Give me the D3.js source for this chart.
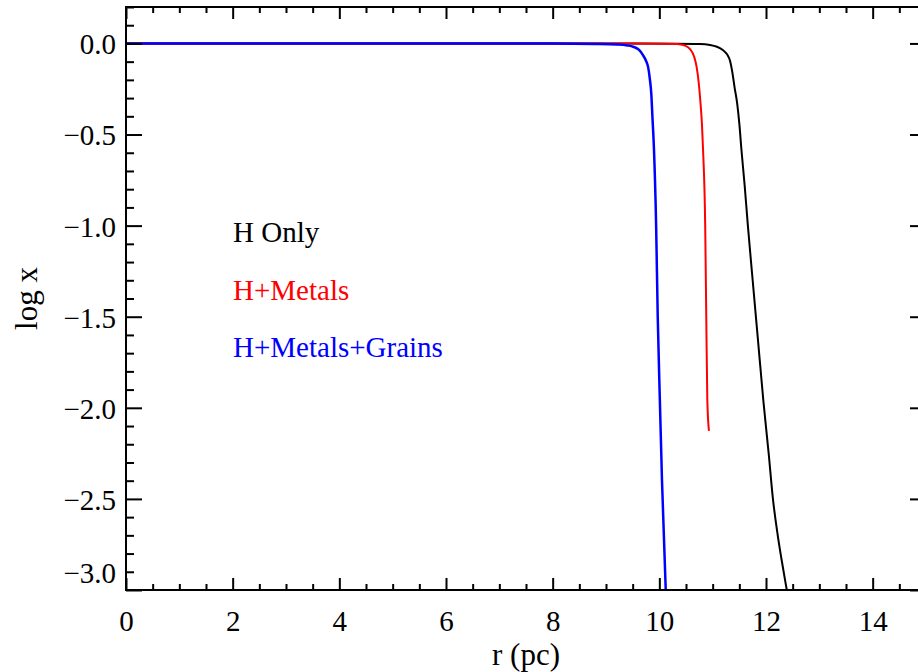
<!DOCTYPE html>
<html>
<head>
<meta charset="utf-8">
<script src="https://cdn.jsdelivr.net/npm/d3@7"></script>
<style>
  html, body { margin: 0; padding: 0; background: #fff; }
  svg { display: block; overflow: hidden; }
  text { font-family: "Liberation Serif", "Times New Roman", serif; }
</style>
</head>
<body>
<svg id="chart" width="918" height="672"></svg>
<script>
// ── Data ──────────────────────────────────────────────────────────────────
const hOnlyR    = [0, 4, 8, 9.5, 10.3, 10.76, 10.95, 11.08, 11.19, 11.27, 11.33, 11.37, 11.41, 11.46, 11.50, 11.54, 11.60, 11.66, 11.75, 11.85, 11.95, 12.05, 12.13, 12.22, 12.29, 12.39, 12.45];
const hOnlyLogX = [0, 0, -0.0005, -0.001, -0.0015, -0.003, -0.008, -0.018, -0.036, -0.06, -0.10, -0.16, -0.24, -0.33, -0.44, -0.585, -0.78, -1.0, -1.3, -1.63, -1.96, -2.25, -2.5, -2.7, -2.83, -3.0, -3.1];

const metalsR    = [0, 4, 8, 9.5, 10.1, 10.33, 10.48, 10.58, 10.65, 10.70, 10.74, 10.77, 10.80, 10.82, 10.86, 10.88, 10.90, 10.93];
const metalsLogX = [0, 0, -0.0005, -0.001, -0.0015, -0.003, -0.012, -0.033, -0.07, -0.13, -0.22, -0.32, -0.45, -0.585, -1.0, -1.5, -1.96, -2.127];

const grainsR    = [0, 4, 8, 8.8, 9.2, 9.4, 9.51, 9.62, 9.69, 9.75, 9.79, 9.82, 9.85, 9.87, 9.90, 9.94, 9.97, 10.01, 10.05, 10.12, 10.15];
const grainsLogX = [0, 0, -0.001, -0.003, -0.006, -0.011, -0.018, -0.036, -0.063, -0.095, -0.13, -0.19, -0.28, -0.40, -0.585, -1.0, -1.5, -1.96, -2.4, -3.0, -3.2];

const seriesNames  = ['H Only', 'H+Metals', 'H+Metals+Grains'];
const seriesColors = ['#000000', '#ff0000', '#0000ff'];

const xMajor = [0, 2, 4, 6, 8, 10, 12, 14];
const yMajor = [0.0, -0.5, -1.0, -1.5, -2.0, -2.5, -3.0];

// ── Layout ────────────────────────────────────────────────────────────────
const L = 126, R = 926, T = 7, B = 590;
const svg = d3.select('#chart');
const x = d3.scaleLinear().domain([0, 15]).range([L, R]);
const y = d3.scaleLinear().domain([-3.0, 0.2]).range([B, T]);

const xMinor = d3.range(0, 15.01, 0.5).filter(v => !xMajor.includes(v));
const yMinor = d3.range(-30, 3, 1).map(v => v / 10).filter(v => !yMajor.some(m => Math.abs(m - v) < 1e-9));

svg.append('clipPath').attr('id', 'plotclip')
  .append('rect').attr('x', L).attr('y', T).attr('width', R - L).attr('height', B - T);

// ── Curves ────────────────────────────────────────────────────────────────
const line = d3.line().x(d => x(d[0])).y(d => y(d[1])).curve(d3.curveMonotoneX);
const series = [
  [hOnlyR, hOnlyLogX, 2],
  [metalsR, metalsLogX, 2],
  [grainsR, grainsLogX, 2.5]
];
const gLines = svg.append('g').attr('clip-path', 'url(#plotclip)');
series.forEach(([rs, vs, w], i) => {
  gLines.append('path')
    .datum(rs.map((r, k) => [r, vs[k]]))
    .attr('d', line)
    .attr('fill', 'none')
    .attr('stroke', seriesColors[i])
    .attr('stroke-width', w)
    .attr('stroke-linejoin', 'round');
});

// ── Axes (ticks inward, IDL style) ────────────────────────────────────────
function styleAxis(g) {
  g.attr('font-family', null).attr('font-size', null);
  g.select('.domain').remove();
  g.selectAll('line').attr('stroke', '#000').attr('stroke-width', 2);
  g.selectAll('text').attr('font-size', 29).attr('fill', '#000');
}

// bottom
svg.append('g').attr('transform', `translate(0,${B})`)
  .call(d3.axisBottom(x).tickValues(xMinor).tickSize(-6).tickFormat(''))
  .call(styleAxis);
const gxb = svg.append('g').attr('transform', `translate(0,${B})`)
  .call(d3.axisBottom(x).tickValues(xMajor).tickSize(-12).tickFormat(d3.format('d')))
  .call(styleAxis);
gxb.selectAll('text').attr('y', 41).attr('dy', null);

// top
svg.append('g').attr('transform', `translate(0,${T})`)
  .call(d3.axisTop(x).tickValues(xMinor).tickSize(-6).tickFormat(''))
  .call(styleAxis);
svg.append('g').attr('transform', `translate(0,${T})`)
  .call(d3.axisTop(x).tickValues(xMajor).tickSize(-12).tickFormat(''))
  .call(styleAxis);

// left
svg.append('g').attr('transform', `translate(${L},0)`)
  .call(d3.axisLeft(y).tickValues(yMinor).tickSize(-8).tickFormat(''))
  .call(styleAxis);
const gyl = svg.append('g').attr('transform', `translate(${L},0)`)
  .call(d3.axisLeft(y).tickValues(yMajor).tickSize(-16).tickFormat(d3.format('.1f')))
  .call(styleAxis);
gyl.selectAll('text').attr('x', -10).attr('dy', '0.36em');
gyl.selectAll('text').filter(d => d === -3.0).attr('dy', '-0.25em');

// right
svg.append('g').attr('transform', `translate(${R},0)`)
  .call(d3.axisRight(y).tickValues(yMinor).tickSize(-8).tickFormat(''))
  .call(styleAxis);
svg.append('g').attr('transform', `translate(${R},0)`)
  .call(d3.axisRight(y).tickValues(yMajor).tickSize(-16).tickFormat(''))
  .call(styleAxis);

// frame
svg.append('rect')
  .attr('x', L).attr('y', T).attr('width', R - L).attr('height', B - T)
  .attr('fill', 'none').attr('stroke', '#000').attr('stroke-width', 2);

// ── Titles ────────────────────────────────────────────────────────────────
svg.append('text')
  .attr('x', (L + R) / 2).attr('y', 665)
  .attr('text-anchor', 'middle').attr('font-size', 31)
  .text('r (pc)');
svg.append('text')
  .attr('transform', `translate(37,${(T + B) / 2}) rotate(-90)`)
  .attr('text-anchor', 'middle').attr('font-size', 31)
  .text('log x');

// ── Legend ────────────────────────────────────────────────────────────────
seriesNames.forEach((name, i) => {
  svg.append('text')
    .attr('x', 233).attr('y', 242 + i * 57.5)
    .attr('font-size', 29)
    .attr('fill', seriesColors[i])
    .text(name);
});
</script>
</body>
</html>
